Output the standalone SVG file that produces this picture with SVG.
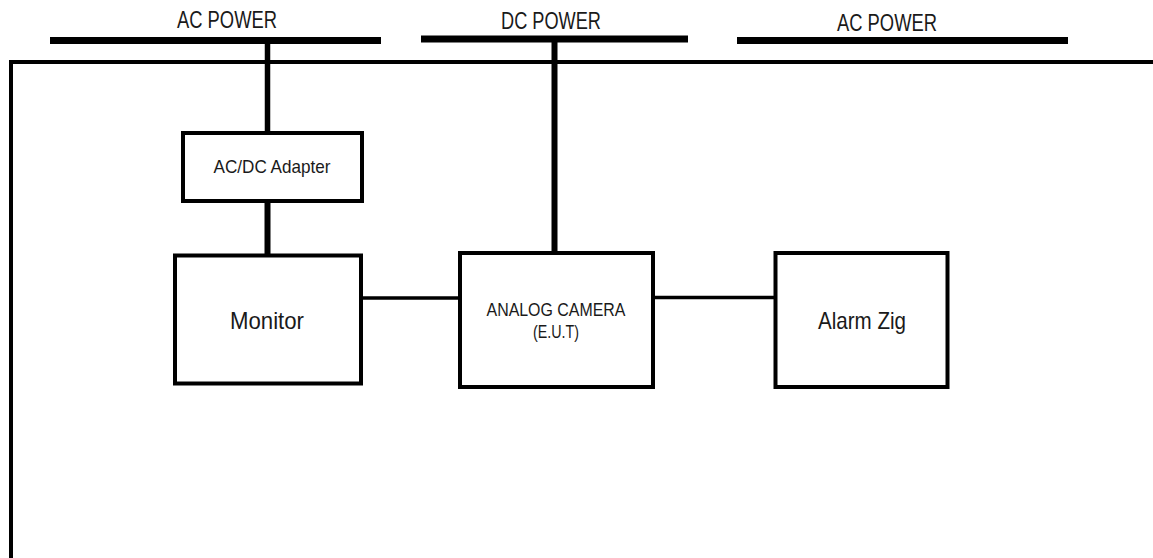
<svg xmlns="http://www.w3.org/2000/svg" width="1153" height="558" viewBox="0 0 1153 558">
<style>
.box{fill:#fff;stroke:#000;stroke-width:4}
.bar{stroke:#000;stroke-width:7;fill:none}
.wire{stroke:#000;fill:none}
text{font-family:"Liberation Sans",Arial,sans-serif;fill:#1a1a1a;text-anchor:middle}
</style>
<rect width="1153" height="558" fill="#fff"/>
<g id="connectors">
  <polyline class="wire" stroke-width="4" points="11,558 11,62 1153,62"/>
  <line class="bar" x1="50" y1="40.5" x2="381" y2="40.5"/>
  <line class="bar" x1="421" y1="39" x2="688" y2="39"/>
  <line class="bar" x1="737" y1="40.5" x2="1068" y2="40.5"/>
  <line class="wire" stroke-width="5.5" x1="267.5" y1="40" x2="267.5" y2="133"/>
  <line class="wire" stroke-width="6" x1="267.5" y1="200" x2="267.5" y2="256"/>
  <line class="wire" stroke-width="6" x1="554.5" y1="39" x2="554.5" y2="254"/>
  <line class="wire" stroke-width="3.5" x1="362" y1="298" x2="459" y2="298"/>
  <line class="wire" stroke-width="3.5" x1="653" y1="297.5" x2="776" y2="297.5"/>
</g>
<g id="label-ac-power-left"><text x="227" y="28" font-size="23" textLength="100" lengthAdjust="spacingAndGlyphs">AC POWER</text></g>
<g id="label-dc-power"><text x="551" y="29" font-size="23" textLength="100" lengthAdjust="spacingAndGlyphs">DC POWER</text></g>
<g id="label-ac-power-right"><text x="887" y="31" font-size="23" textLength="100" lengthAdjust="spacingAndGlyphs">AC POWER</text></g>
<g id="node-adapter">
  <rect class="box" x="183" y="133" width="179" height="68"/>
  <text x="272" y="173" font-size="19" textLength="117" lengthAdjust="spacingAndGlyphs">AC/DC Adapter</text>
</g>
<g id="node-monitor">
  <rect class="box" x="175" y="255.5" width="186" height="128"/>
  <text x="267" y="329" font-size="24" textLength="74" lengthAdjust="spacingAndGlyphs">Monitor</text>
</g>
<g id="node-camera">
  <rect class="box" x="460" y="253" width="193" height="134"/>
  <text x="556" y="316" font-size="18" textLength="139" lengthAdjust="spacingAndGlyphs">ANALOG CAMERA</text>
  <text x="556" y="338" font-size="18" textLength="46" lengthAdjust="spacingAndGlyphs">(E.U.T)</text>
</g>
<g id="node-alarm">
  <rect class="box" x="775.5" y="253" width="172" height="134"/>
  <text x="862" y="329" font-size="24" textLength="88" lengthAdjust="spacingAndGlyphs">Alarm Zig</text>
</g>
</svg>
